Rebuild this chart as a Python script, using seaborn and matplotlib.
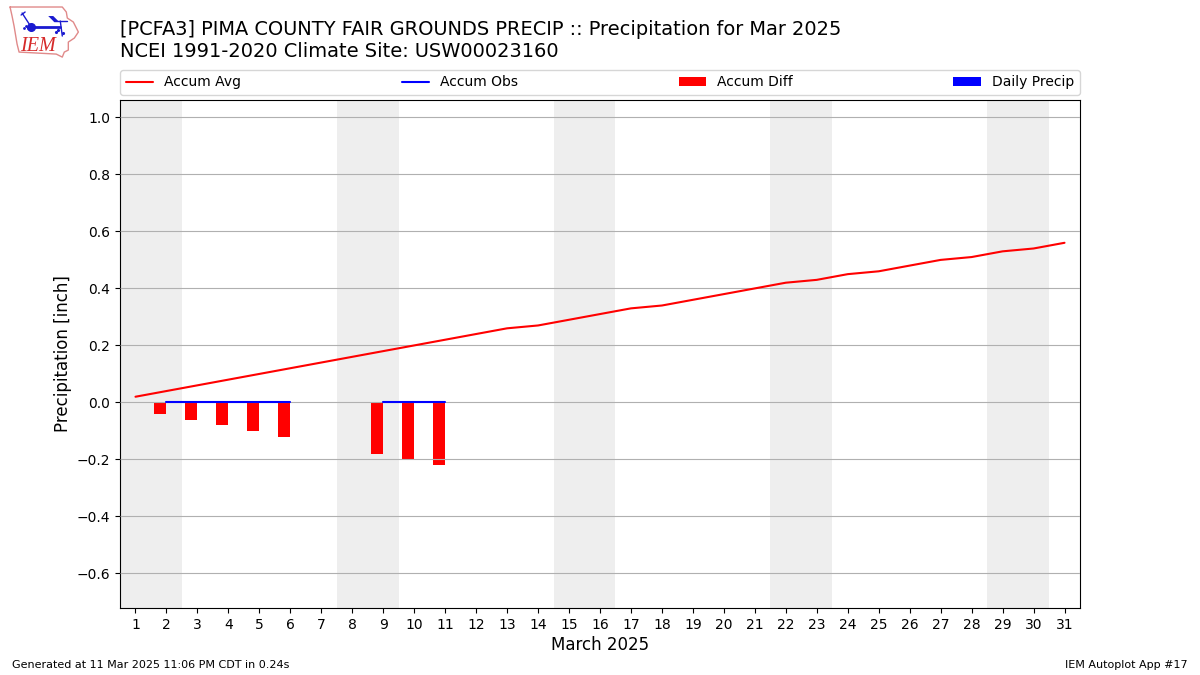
import numpy as np
import pandas as pd
import matplotlib
matplotlib.use("Agg")
import matplotlib.pyplot as plt
import seaborn as sns

days = list(range(1, 32))
accum_avg = [0.02, 0.04, 0.06, 0.08, 0.10, 0.12, 0.14, 0.16, 0.18, 0.20, 0.22,
             0.24, 0.26, 0.27, 0.29, 0.31, 0.33, 0.34, 0.36, 0.38, 0.40, 0.42,
             0.43, 0.45, 0.46, 0.48, 0.50, 0.51, 0.53, 0.54, 0.56]
obs_days_a = [2, 3, 4, 5, 6]
obs_vals_a = [0.0, 0.0, 0.0, 0.0, 0.0]
obs_days_b = [9, 10, 11]
obs_vals_b = [0.0, 0.0, 0.0]
diff_days = [2, 3, 4, 5, 6, 9, 10, 11]
diff_vals = [-0.04, -0.06, -0.08, -0.10, -0.12, -0.18, -0.20, -0.22]
daily_vals = [0.0, 0.0, 0.0, 0.0, 0.0, 0.0, 0.0, 0.0]
weekends = [(0.5, 2.5), (7.5, 9.5), (14.5, 16.5), (21.5, 23.5), (28.5, 30.5)]
title = "[PCFA3] PIMA COUNTY FAIR GROUNDS PRECIP :: Precipitation for Mar 2025\nNCEI 1991-2020 Climate Site: USW00023160"

sns.set_style("white")
plt.rcParams["font.family"] = ["DejaVu Sans"]
plt.rcParams["text.color"] = "black"
plt.rcParams["axes.labelcolor"] = "black"
plt.rcParams["xtick.color"] = "black"
plt.rcParams["ytick.color"] = "black"

fig = plt.figure(figsize=(12, 6.75), dpi=100)
ax = fig.add_axes([0.1, 0.0993, 0.8, 0.7526])
ax.set_axisbelow(False)
for a, b in weekends:
    ax.axvspan(a, b, color="#eeeeee", lw=0, zorder=0)
ax.yaxis.grid(True, color="#b0b0b0", lw=0.8, zorder=1)
ax.xaxis.grid(False)

sns.lineplot(x=days, y=accum_avg, color="red", lw=1.5, ax=ax, label="Accum Avg", zorder=3, errorbar=None)
sns.lineplot(x=obs_days_a, y=obs_vals_a, color="blue", lw=1.5, ax=ax, label="Accum Obs", zorder=3, errorbar=None)
sns.lineplot(x=obs_days_b, y=obs_vals_b, color="blue", lw=1.5, ax=ax, legend=False, zorder=3, errorbar=None)
ax.bar(diff_days, diff_vals, width=-0.4, align="edge", color="red", lw=0, label="Accum Diff", zorder=2)
ax.bar(diff_days, daily_vals, width=0.4, align="edge", color="blue", lw=0, label="Daily Precip", zorder=2)

ax.set_xlim(0.5, 31.5)
ax.set_ylim(-0.721, 1.061)
ax.set_xticks(days)
ax.set_yticks(np.arange(-0.6, 1.01, 0.2))
ax.tick_params(axis="both", length=3.5, width=0.8, labelsize=10, left=True, bottom=True)
for s in ax.spines.values():
    s.set_color("black")
    s.set_linewidth(0.8)
ax.set_xlabel("March 2025", fontsize=12, labelpad=3)
ax.set_ylabel("Precipitation [inch]", fontsize=12, labelpad=3)

ax.legend(loc="lower left", bbox_to_anchor=(0, 1.0098, 1, 0.05), ncol=4, mode="expand",
          borderaxespad=0, fontsize=10, frameon=True, edgecolor="#cccccc", fancybox=True)

fig.text(0.1, 0.909, title, fontsize=13.99, ha="left", va="bottom", linespacing=1.2)
fig.text(0.01, 0.0074, "Generated at 11 Mar 2025 11:06 PM CDT in 0.24s", fontsize=8, ha="left", va="bottom")
fig.text(0.99, 0.0074, "IEM Autoplot App #17", fontsize=8, ha="right", va="bottom")

# logo
lg = fig.add_axes([0.0, 0.908, 0.072, 0.092])
lg.set_xlim(0, 86); lg.set_ylim(62, 0); lg.axis("off")
lg.plot([10, 62, 66, 67, 73, 78, 74, 68, 68, 64, 62, 56, 19, 17, 14, 12, 10],
        [7, 7, 12, 18, 22, 32, 38, 42, 50, 52, 57, 54, 52, 44, 26, 16, 7], color="#e08a8a", lw=1)
lg.plot([31, 60], [27, 27], color="#1a1ad0", lw=2)
lg.plot([22, 31], [13, 27], color="#1a1ad0", lw=1)
lg.plot([21, 25], [15, 12], color="#1a1ad0", lw=1)
lg.plot([31], [27], "o", color="#1a1ad0", ms=5.5)
lg.fill([48, 53, 58, 54], [16, 16, 21, 22], color="#1a1ad0", lw=0)
lg.plot([54, 67], [21, 21], color="#1a1ad0", lw=1)
lg.plot([60, 62], [21, 36], color="#1a1ad0", lw=1)
lg.plot([24, 26, 28], [28, 26, 28], ".", color="#1a1ad0", ms=2)
lg.plot([56, 58, 63], [32, 30, 33], ".", color="#1a1ad0", ms=2.5)
lg.text(38, 46, "IEM", color="#d62a2a", fontsize=14.5, family="Liberation Serif", style="italic", ha="center", va="center")
fig.savefig("out.png", dpi=100)
